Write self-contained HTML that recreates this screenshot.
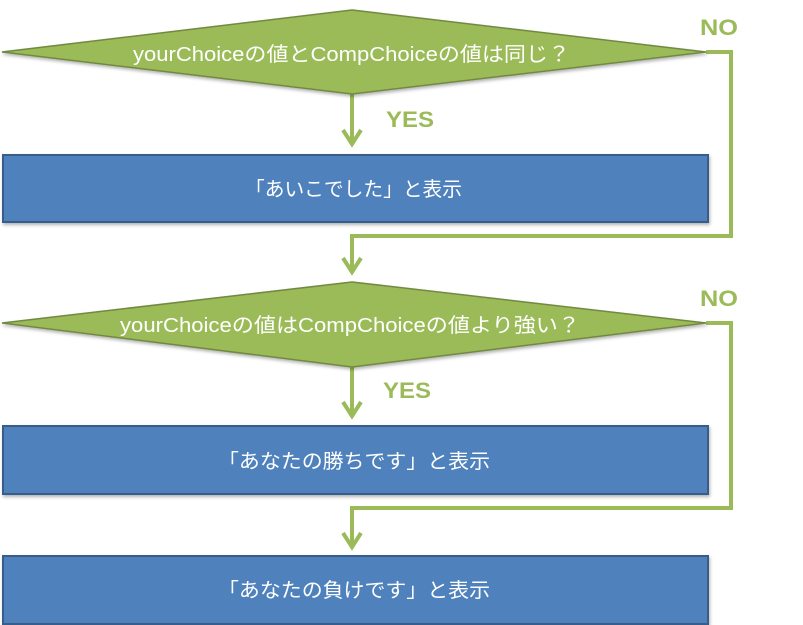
<!DOCTYPE html>
<html><head><meta charset="utf-8"><style>
html,body{margin:0;padding:0;background:#fff;width:803px;height:625px;overflow:hidden}
text{font-family:"Liberation Sans","Noto Sans CJK JP",sans-serif}
</style></head><body>
<svg width="803" height="625" xmlns="http://www.w3.org/2000/svg">
<defs><filter id="s" x="-5%" y="-5%" width="110%" height="120%"><feDropShadow dx="1" dy="2" stdDeviation="1.5" flood-opacity="0.3"/></filter></defs>
<g fill="none" stroke="#9bbb59" stroke-width="4">
<polyline points="706,52 731,52 731,236 352,236 352,270"/>
<polyline points="706,323 731,323 731,508 352,508 352,545"/>
<line x1="352" y1="94" x2="352" y2="142"/>
<line x1="352" y1="367" x2="352" y2="414"/>
<polyline points="343,258 352,272 361,258"/>
<polyline points="343,130 352,144 361,130"/>
<polyline points="343,402 352,416 361,402"/>
<polyline points="343,533 352,547 361,533"/>
</g>
<polygon points="352,10 706,52 352,94 2,52" fill="#9bbb59" stroke="#71893f" stroke-width="1.5" filter="url(#s)"/>
<polygon points="352,282 706,323 352,367 2,323" fill="#9bbb59" stroke="#71893f" stroke-width="1.5" filter="url(#s)"/>
<rect x="3" y="155" width="705" height="67" fill="#4f81bd" stroke="#385d8a" stroke-width="2" filter="url(#s)"/>
<rect x="3" y="426" width="705" height="68" fill="#4f81bd" stroke="#385d8a" stroke-width="2" filter="url(#s)"/>
<rect x="3" y="556" width="705" height="68" fill="#4f81bd" stroke="#385d8a" stroke-width="2" filter="url(#s)"/>
<g fill="#fff" font-size="20">
<text x="133" y="61" textLength="437" lengthAdjust="spacingAndGlyphs">yourChoiceの値とCompChoiceの値は同じ？</text>
<text x="120" y="332" textLength="460" lengthAdjust="spacingAndGlyphs">yourChoiceの値はCompChoiceの値より強い？</text>
<text x="245" y="196" textLength="217" lengthAdjust="spacingAndGlyphs">「あいこでした」と表示</text>
<text x="218" y="468" textLength="272" lengthAdjust="spacingAndGlyphs">「あなたの勝ちです」と表示</text>
<text x="218" y="597" textLength="272" lengthAdjust="spacingAndGlyphs">「あなたの負けです」と表示</text>
</g>
<g fill="#9bbb59" font-size="22" font-weight="bold">
<text x="700" y="35" textLength="38" lengthAdjust="spacingAndGlyphs">NO</text>
<text x="700" y="306" textLength="38" lengthAdjust="spacingAndGlyphs">NO</text>
<text x="386" y="127" textLength="48" lengthAdjust="spacingAndGlyphs">YES</text>
<text x="383" y="398" textLength="48" lengthAdjust="spacingAndGlyphs">YES</text>
</g>
</svg>
</body></html>
